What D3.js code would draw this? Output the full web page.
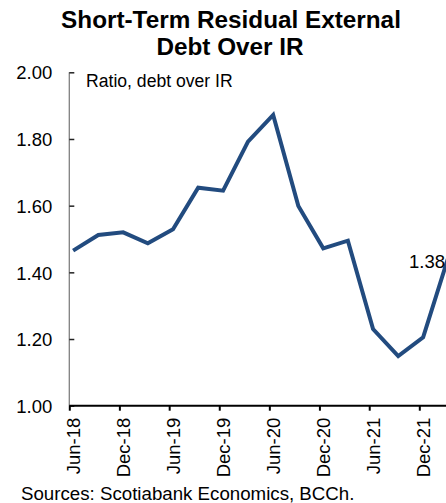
<!DOCTYPE html>
<html>
<head>
<meta charset="utf-8">
<script src="https://cdn.jsdelivr.net/npm/d3@7"></script>
<style>
  body { margin: 0; background: #fff; }
  svg { display: block; font-family: "Liberation Sans", Arial, sans-serif; }
</style>
</head>
<body>
<div id="chart"></div>
<script>
// quarterly observations (mid-month of each quarter end)
var dates = ["2018-06-15", "2018-09-15", "2018-12-15", "2019-03-15",
             "2019-06-15", "2019-09-15", "2019-12-15", "2020-03-15",
             "2020-06-15", "2020-09-15", "2020-12-15", "2021-03-15",
             "2021-06-15", "2021-09-15", "2021-12-15", "2022-03-15"];
var ratio = [1.465, 1.512, 1.520, 1.487, 1.529, 1.654, 1.645, 1.792,
             1.872, 1.599, 1.472, 1.495, 1.230, 1.149, 1.205, 1.44];
var xTicks = ["2018-06-01", "2018-12-01", "2019-06-01", "2019-12-01",
              "2020-06-01", "2020-12-01", "2021-06-01", "2021-12-01"];
var yTicks = [1.0, 1.2, 1.4, 1.6, 1.8, 2.0];
var lastLabel = "1.38";

var W = 446, H = 503;
var parse = d3.timeParse("%Y-%m-%d");

var data = dates.map(function(d, i) { return {date: parse(d), value: ratio[i]}; });

var svg = d3.select("#chart")
  .append("svg")
  .attr("width", W)
  .attr("height", H);

// x goes past the right edge, the picture is cut there
var x = d3.scaleTime()
  .domain([parse("2018-06-01"), parse("2021-12-01")])
  .range([69.3, 419.3]);

var y = d3.scaleLinear()
  .domain([1, 2])
  .range([405.7, 72.3]);

// title
var title = svg.append("text")
  .attr("text-anchor", "middle")
  .style("font-weight", "bold")
  .style("font-size", "24.3px")
  .attr("fill", "#000");
title.append("tspan").attr("x", 231).attr("y", 27.7).text("Short-Term Residual External");
title.append("tspan").attr("x", 230).attr("y", 55).text("Debt Over IR");

// y axis
var yAxis = svg.append("g")
  .attr("transform", "translate(69.3,0)")
  .call(d3.axisRight(y).tickValues(yTicks).tickSize(5).tickFormat(d3.format(".2f")));
yAxis.select(".domain").attr("stroke", "#808080").attr("stroke-width", 1.3)
  .attr("d", "M0," + y(2) + "V" + y(1));
yAxis.selectAll(".tick line").attr("stroke", "#222").attr("stroke-width", 1.5);
yAxis.selectAll(".tick text")
  .attr("x", -17)
  .attr("text-anchor", "end")
  .attr("dy", "0.36em")
  .style("font-size", "18.5px")
  .attr("fill", "#000");

// x axis
var xEnd = parse("2022-06-01");
var xAxis = svg.append("g")
  .attr("transform", "translate(0," + y(1) + ")")
  .call(d3.axisBottom(x)
    .tickValues(xTicks.map(parse))
    .tickSize(5)
    .tickSizeOuter(0)
    .tickFormat(d3.timeFormat("%b-%y")));
xAxis.select(".domain")
  .attr("d", "M" + x.range()[0] + ",0H" + x(xEnd))
  .attr("stroke", "#000")
  .attr("stroke-width", 2);
xAxis.selectAll(".tick line").attr("stroke", "#000").attr("stroke-width", 2);
xAxis.selectAll(".tick text")
  .attr("transform", "rotate(-90)")
  .attr("text-anchor", "end")
  .attr("x", -12)
  .attr("y", 0)
  .attr("dy", "0.55em")
  .style("font-size", "18.5px")
  .attr("fill", "#000");

// axis caption
svg.append("text")
  .attr("x", 86)
  .attr("y", 86.5)
  .style("font-size", "17.6px")
  .attr("fill", "#000")
  .text("Ratio, debt over IR");

// the line
svg.append("path")
  .datum(data)
  .attr("fill", "none")
  .attr("stroke", "#224b7f")
  .attr("stroke-width", 4)
  .attr("stroke-linejoin", "miter")
  .attr("d", d3.line()
    .x(function(d) { return x(d.date); })
    .y(function(d) { return y(d.value); })
  );

// last value label, nudged left so it stays inside the frame
svg.append("text")
  .attr("x", W - 1)
  .attr("y", 268)
  .attr("text-anchor", "end")
  .style("font-size", "18.5px")
  .attr("fill", "#000")
  .text(lastLabel);

// source
svg.append("text")
  .attr("x", 21)
  .attr("y", 500)
  .style("font-size", "18.7px")
  .attr("fill", "#000")
  .text("Sources: Scotiabank Economics, BCCh.");
</script>
</body>
</html>
